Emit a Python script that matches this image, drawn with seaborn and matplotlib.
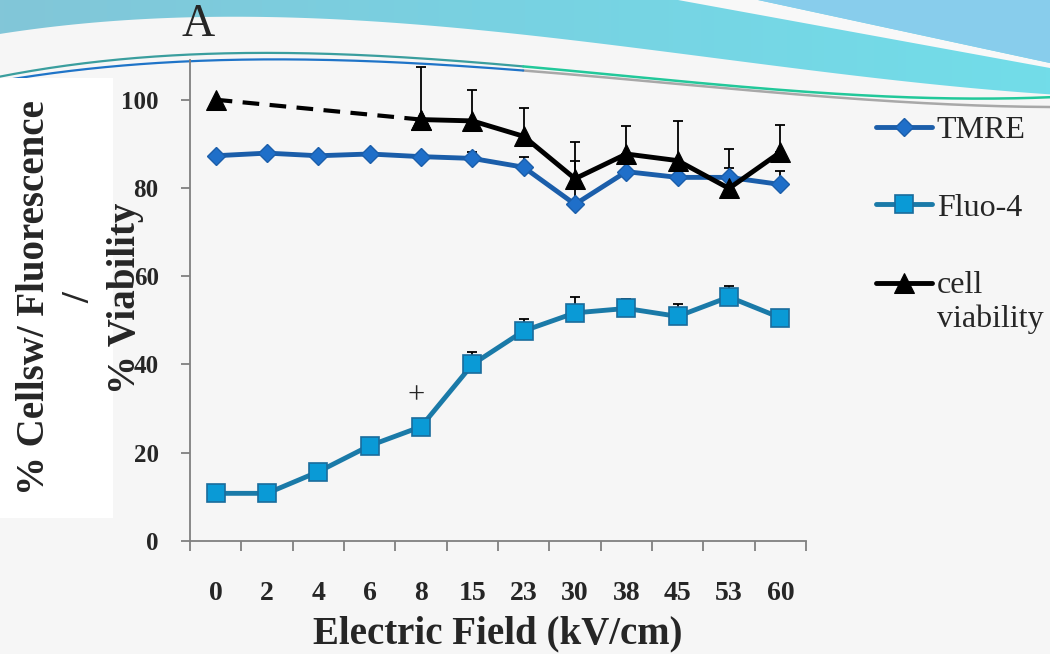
#!/usr/bin/env python3
# -*- coding: utf-8 -*-

import matplotlib as mpl
import matplotlib.pyplot as plt
import seaborn as sns
import numpy as np
import pandas as pd
from matplotlib.patches import Polygon, Rectangle
from matplotlib.colors import LinearSegmentedColormap
from matplotlib.legend_handler import HandlerLine2D

mpl.use("Agg")

sns.set_style("ticks")
plt.rcParams["font.family"] = ["Liberation Serif", "DejaVu Serif"]

# electric field (kV/cm), categorical x axis
fields = ["0", "2", "4", "6", "8", "15", "23", "30", "38", "45", "53", "60"]

# % cells with fluorescence / % viability
tmre = [87.3, 87.9, 87.3, 87.7, 87.1, 86.7, 84.7, 76.3, 83.7, 82.4, 82.4, 80.8]
tmre_err = [0, 0, 0, 0, 0, 1.5, 2.4, 9.7, 0, 0, 2.2, 3.0]
fluo = [10.8, 10.8, 15.7, 21.6, 25.9, 40.0, 47.6, 51.7, 52.7, 50.9, 55.3, 50.6]
fluo_err = [0, 0, 0, 0, 0, 2.8, 2.6, 3.6, 2.2, 2.8, 2.4, 0]
viab = [100.0, np.nan, np.nan, np.nan, 95.5, 95.2, 91.7, 82.1, 87.7, 86.2, 79.9, 88.1]
viab_err = [0, 0, 0, 0, 12.0, 7.0, 6.5, 8.4, 6.3, 9.0, 8.9, 6.1]

# significance mark next to the 8 kV/cm Fluo-4 point
plus_mark = ("8", 33.0)

TMRE_LINE = "#1b5eaa"
TMRE_FACE = "#1f6fc9"
FLUO_LINE = "#1a7aa8"
FLUO_FACE = "#0a9ad6"
FLUO_EDGE = "#1a6c9c"

df = pd.DataFrame(
    {
        "pos": np.arange(len(fields)),
        "field": fields,
        "tmre": tmre,
        "tmre_err": tmre_err,
        "fluo": fluo,
        "fluo_err": fluo_err,
        "viab": viab,
        "viab_err": viab_err,
    }
)


class TopLineHandler(HandlerLine2D):
    # put the legend handle next to the first line of a two-line label
    def create_artists(self, legend, orig_handle, xdescent, ydescent, width,
                       height, fontsize, trans):
        return super().create_artists(legend, orig_handle, xdescent,
                                      ydescent - 1.2 * fontsize, width, height,
                                      fontsize, trans)


W, H = 1050, 654
fig = plt.figure(figsize=(W / 100, H / 100), dpi=100)
fig.patch.set_facecolor("#f6f6f6")

# ---- slide decoration behind the chart ----
bg = fig.add_axes([0, 0, 1, 1], zorder=-10)
bg.set_xlim(0, W)
bg.set_ylim(H, 0)
bg.axis("off")
xs = np.linspace(0, W, 300)


def smooth(px, py):
    # cubic through control points, just for the decorative curves
    return np.polyval(np.polyfit(px, py, 3), xs)


teal_bottom = smooth([0, 100, 200, 280, 350, 450, 525, 692, 858, 1050],
                     [35, 21, 17, 16, 19, 28, 39, 53, 75, 95])
grad = np.linspace(0, 1, 256).reshape(1, -1)
cmap = LinearSegmentedColormap.from_list("slide", ["#82c6d8", "#78d2e2", "#72dde9"])
im = bg.imshow(grad, extent=[0, W, 110, 0], cmap=cmap, aspect="auto", zorder=0)
clip = Polygon(list(zip(xs, teal_bottom)) + [(W, 0), (0, 0)], closed=True,
               facecolor="none", edgecolor="none", transform=bg.transData)
bg.add_patch(clip)
im.set_clip_path(clip)
bg.add_patch(Polygon([(678, 0), (758, 0), (W, 63), (W, 68)], closed=True,
                     facecolor="#f8f8f8", edgecolor="none", zorder=1))
bg.add_patch(Polygon([(758, 0), (W, 0), (W, 63)], closed=True,
                     facecolor="#88cdec", edgecolor="none", zorder=1))
upper = smooth([0, 190, 260, 400, 525, 700, 858, 1050], [77, 55, 51, 56, 70, 83, 93, 98])
lower = smooth([0, 190, 260, 400, 525, 700, 858, 1050], [81, 62, 59, 62, 71, 86, 99, 107])
left = xs <= 525
right = xs >= 520
bg.plot(xs[left], upper[left], color="#3a9e9e", lw=1.6, zorder=2)
bg.plot(xs[right], upper[right], color="#22c89a", lw=1.8, zorder=2)
bg.plot(xs[left], lower[left], color="#1f74c8", lw=1.6, zorder=2)
bg.plot(xs[right], lower[right], color="#a8a8a8", lw=1.8, zorder=1.9)
bg.add_patch(Rectangle((0, 78), 113, 440, facecolor="white", edgecolor="none", zorder=3))

# ---- chart ----
ax = fig.add_axes([190 / W, 1 - 541 / H, (806 - 190) / W, (541 - 60) / H])
ax.set_facecolor("none")

sns.lineplot(data=df, x="pos", y="tmre", ax=ax, color=TMRE_LINE, lw=3.5,
             marker="D", markersize=9.5, markerfacecolor=TMRE_FACE,
             markeredgecolor=TMRE_LINE, markeredgewidth=1, label="TMRE")
sns.lineplot(data=df, x="pos", y="fluo", ax=ax, color=FLUO_LINE, lw=3.5,
             marker="s", markersize=13, markerfacecolor=FLUO_FACE,
             markeredgecolor=FLUO_EDGE, markeredgewidth=1.2, label="Fluo-4")

# viability: dashed bridge over the missing fields, solid from 8 kV/cm on
vdf = df.dropna(subset=["viab"])
sns.lineplot(data=vdf.iloc[:2], x="pos", y="viab", ax=ax, color="black", lw=3,
             marker="^", markersize=14, markeredgecolor="black")
ax.lines[-1].set_dashes((4, 2.5))
sns.lineplot(data=vdf.iloc[1:], x="pos", y="viab", ax=ax, color="black", lw=3.5,
             marker="^", markersize=14, markeredgecolor="black", label="cell\nviability")

# plus-only error bars
for col, err in [("tmre", "tmre_err"), ("fluo", "fluo_err"), ("viab", "viab_err")]:
    sub = df[df[err] > 0]
    ax.errorbar(sub["pos"], sub[col], yerr=[np.zeros(len(sub)), sub[err]],
                fmt="none", ecolor="black", elinewidth=1.3, capsize=3.6,
                capthick=1.3, zorder=1)

ax.text(fields.index(plus_mark[0]) - 0.1, plus_mark[1], "+", ha="center",
        va="center", fontsize=22)

ax.set_xlim(-0.5, len(fields) - 0.5)
ax.set_ylim(0, 109)
ax.set_yticks([0, 20, 40, 60, 80, 100])
ax.set_yticklabels(["0", "20", "40", "60", "80", "100"], fontsize=18, fontweight="bold")
ax.set_xticks(df["pos"])
ax.set_xticklabels(fields, fontsize=20, fontweight="bold")
ax.set_xticks(np.arange(-0.5, len(fields)), minor=True)
ax.tick_params(axis="x", which="major", length=0, pad=29)
ax.tick_params(axis="x", which="minor", length=7, width=1.3, color="#808080")
ax.tick_params(axis="y", length=6.5, width=1.3, color="#808080", pad=16)
for side in ["top", "right"]:
    ax.spines[side].set_visible(False)
for side in ["left", "bottom"]:
    ax.spines[side].set_color("#808080")
    ax.spines[side].set_linewidth(1.3)
ax.set_xlabel("")
ax.set_ylabel("")

fig.text(498 / W, 1 - 634 / H, "Electric Field (kV/cm)", ha="center", va="center",
         fontsize=28, fontweight="bold")
fig.text(80 / W, 1 - 298 / H, "% Cellsw/ Fluorescence\n/\n% Viability", rotation=90,
         ha="center", va="center", multialignment="center", fontsize=28,
         fontweight="bold", linespacing=1.3)
fig.text(198 / W, 1 - 25 / H, "A", ha="center", va="center", fontsize=33)

handles, labels = ax.get_legend_handles_labels()
ax.legend(handles, labels, loc="upper left", bbox_to_anchor=(876 / W, 1 - 116 / H),
          bbox_transform=fig.transFigure, frameon=False, fontsize=23,
          handlelength=1.75, handletextpad=0.15, labelspacing=1.5,
          borderpad=0, borderaxespad=0,
          handler_map={handles[2]: TopLineHandler()})

fig.savefig("out.png", dpi=100, facecolor=fig.get_facecolor())
